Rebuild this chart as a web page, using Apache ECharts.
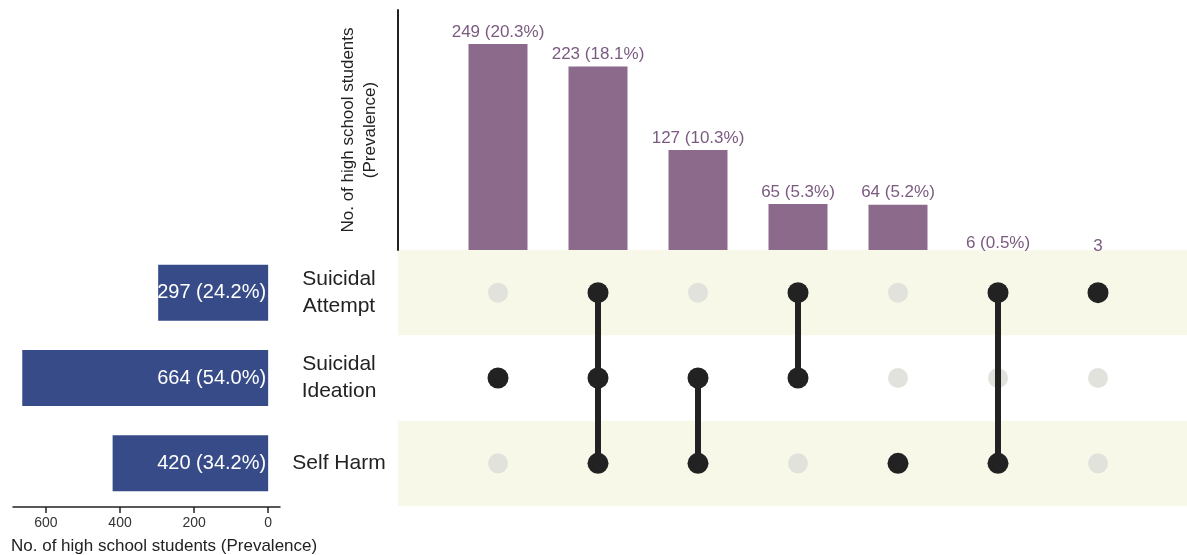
<!DOCTYPE html>
<html>
<head>
<meta charset="utf-8">
<script src="https://cdn.jsdelivr.net/npm/echarts@6/dist/echarts.min.js"></script>
<style>
html,body{margin:0;padding:0;background:#fff;}
#chart{width:1187px;height:555px;}
</style>
</head>
<body>
<div id="chart"></div>
<script>
// ---- data ----
const setNames = ['Suicidal Attempt', 'Suicidal Ideation', 'Self Harm'];
const setTotals = [297, 664, 420];
const setPct = ['24.2%', '54.0%', '34.2%'];
const intersectionCounts = [249, 223, 127, 65, 64, 6, 3];
const intersectionPct = ['20.3%', '18.1%', '10.3%', '5.3%', '5.2%', '0.5%', null];
// membership: indices into setNames
const intersectionSets = [[1], [0, 1, 2], [1, 2], [0, 1], [2], [0, 2], [0]];
const leftTicks = [0, 200, 400, 600];

// ---- derived ----
const nSets = setNames.length;
const rowY = i => nSets - i; // Attempt top
const colX = k => k + 1;
const barData = intersectionCounts.map((v, k) => [colX(k), v]);
const labelData = intersectionCounts.map((v, k) => ({
  value: [colX(k), v],
  txt: intersectionPct[k] ? v + ' (' + intersectionPct[k] + ')' : String(v)
}));
const greyDots = [], blackDots = [], linkData = [];
intersectionSets.forEach((sets, k) => {
  for (let i = 0; i < nSets; i++) {
    (sets.includes(i) ? blackDots : greyDots).push([colX(k), rowY(i)]);
  }
  if (sets.length > 1) {
    const ys = sets.map(rowY);
    linkData.push([colX(k), Math.min(...ys), Math.max(...ys)]);
  }
});
const leftCats = setNames.slice().reverse();
const leftVals = setTotals.map((v, i) => ({ value: v, txt: v + ' (' + setPct[i] + ')' })).reverse();

const FONT = '"Liberation Sans", Arial, Helvetica, sans-serif';
const PURPLE = '#8b6a8c';
const BLUE = '#374b88';
const BAND = '#f7f8e8';
const DARK = '#222222';

const chart = echarts.init(document.getElementById('chart'), null, { renderer: 'canvas' });
chart.setOption({
  animation: false,
  backgroundColor: '#ffffff',
  textStyle: { fontFamily: FONT },
  title: {
    text: 'No. of high school students (Prevalence)',
    left: 11, top: 534, padding: 0, top: 538,
    textStyle: { fontFamily: FONT, fontSize: 17, fontWeight: 'normal', color: '#222' }
  },
  grid: [
    { left: 398, top: 10, width: 789, height: 240 },   // top bars
    { left: 398, top: 250, width: 789, height: 256 },  // matrix
    { left: 13, top: 250, width: 267, height: 256 }    // set size bars
  ],
  xAxis: [
    { gridIndex: 0, type: 'value', min: 0, max: 7.89, show: false },
    { gridIndex: 1, type: 'value', min: 0, max: 7.89, show: false },
    {
      gridIndex: 2, type: 'value', inverse: true, min: -32, max: 689, offset: 1,
      axisLine: { show: true, lineStyle: { color: '#222', width: 1.5 } },
      axisTick: { show: true, customValues: leftTicks, length: 6, lineStyle: { color: '#222', width: 1.5 } },
      axisLabel: { customValues: leftTicks, fontSize: 14, color: '#333', margin: 9, fontFamily: FONT },
      splitLine: { show: false }
    }
  ],
  yAxis: [
    {
      gridIndex: 0, type: 'value', min: 12, max: 288,
      axisLine: { show: true, lineStyle: { color: '#222', width: 2 } },
      axisTick: { show: false }, axisLabel: { show: false }, splitLine: { show: false },
      name: 'No. of high school students\n(Prevalence)',
      nameLocation: 'middle', nameRotate: 90, nameGap: 17,
      nameTextStyle: { fontSize: 17, lineHeight: 22, color: '#222', fontFamily: FONT }
    },
    { gridIndex: 1, type: 'value', min: 0.5, max: 3.5, show: false },
    {
      gridIndex: 2, type: 'category', data: leftCats, position: 'right',
      axisLine: { show: false }, axisTick: { show: false }, splitLine: { show: false },
      axisLabel: {
        margin: 59, align: 'center', fontSize: 21, lineHeight: 27, color: '#222', fontFamily: FONT,
        formatter: v => v.startsWith('Suicidal ') ? v.replace(' ', '\n') : v
      }
    }
  ],
  series: [
    {
      type: 'bar', xAxisIndex: 0, yAxisIndex: 0, data: barData, barWidth: 59,
      itemStyle: { color: PURPLE }
    },
    {
      type: 'scatter', xAxisIndex: 0, yAxisIndex: 0, data: labelData, symbolSize: 1,
      itemStyle: { color: 'rgba(0,0,0,0)', opacity: 1 }, clip: false, silent: true,
      label: {
        show: true, position: 'top', distance: 3, fontSize: 17, color: '#7b5a80', fontFamily: FONT,
        formatter: p => p.data.txt
      }
    },
    {
      type: 'scatter', xAxisIndex: 1, yAxisIndex: 1, data: greyDots, symbolSize: 20,
      itemStyle: { color: '#e2e2dd', opacity: 1 }, silent: true, z: 2,
      markArea: {
        silent: true, itemStyle: { color: BAND, opacity: 1 }, z: 0,
        data: [
          [{ yAxis: 2.5 }, { yAxis: 3.5 }],
          [{ yAxis: 0.5 }, { yAxis: 1.5 }]
        ]
      }
    },
    {
      type: 'custom', xAxisIndex: 1, yAxisIndex: 1, data: linkData, z: 3, silent: true,
      renderItem: (params, api) => {
        const a = api.coord([api.value(0), api.value(1)]);
        const b = api.coord([api.value(0), api.value(2)]);
        return {
          type: 'line', shape: { x1: a[0], y1: a[1], x2: b[0], y2: b[1] },
          style: { stroke: DARK, lineWidth: 6 }
        };
      }
    },
    {
      type: 'scatter', xAxisIndex: 1, yAxisIndex: 1, data: blackDots, symbolSize: 21,
      itemStyle: { color: DARK, opacity: 1 }, silent: true, z: 4
    },
    {
      type: 'bar', xAxisIndex: 2, yAxisIndex: 2, data: leftVals, barWidth: 56,
      itemStyle: { color: BLUE },
      label: {
        show: true, position: 'insideRight', distance: 2, fontSize: 20, color: '#ffffff', fontFamily: FONT,
        formatter: p => p.data.txt
      }
    }
  ]
});
</script>
</body>
</html>
